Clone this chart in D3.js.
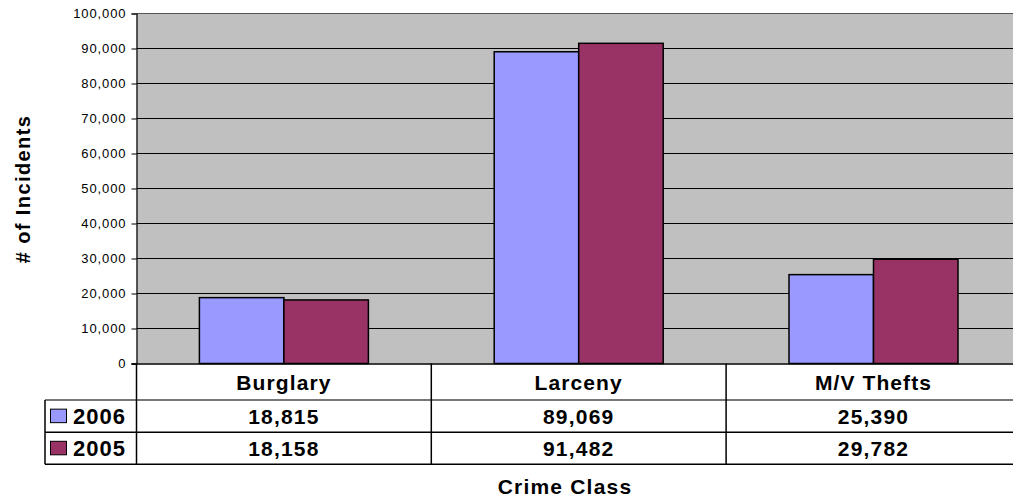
<!DOCTYPE html>
<html>
<head>
<meta charset="utf-8">
<script src="https://cdn.jsdelivr.net/npm/d3@7"></script>
<style>
  body { margin: 0; background: #fff; }
  text { font-family: "Liberation Sans", Arial, sans-serif; }
</style>
</head>
<body>
<svg id="chart" width="1013" height="500"></svg>
<script>
// data
var categories = ["Burglary", "Larceny", "M/V Thefts"];
var years = ["2006", "2005"];
var values2006 = [18815, 89069, 25390];
var values2005 = [18158, 91482, 29782];
var yTicks = [0, 10000, 20000, 30000, 40000, 50000, 60000, 70000, 80000, 90000, 100000];

var colors = { "2006": "#9999ff", "2005": "#993366" };
var seriesValues = { "2006": values2006, "2005": values2005 };

var svg = d3.select("#chart");

var plotLeft = 136.5, plotTop = 13.5, plotBottom = 363.5;
var catWidth = 294.8;
var plotRight = plotLeft + catWidth * categories.length;

var x = d3.scaleBand()
    .domain(categories)
    .range([plotLeft, plotRight]);

var y = d3.scaleLinear()
    .domain([0, 100000])
    .range([plotBottom, plotTop]);

var fmt = d3.format(",");

// plot background
svg.append("rect")
    .attr("x", plotLeft)
    .attr("y", plotTop)
    .attr("width", plotRight - plotLeft)
    .attr("height", plotBottom - plotTop)
    .attr("fill", "#c0c0c0");

// gridlines
svg.append("g")
    .selectAll("line")
    .data(yTicks.slice(1))
    .enter().append("line")
    .attr("x1", plotLeft)
    .attr("x2", plotRight)
    .attr("y1", function(d) { return y(d); })
    .attr("y2", function(d) { return y(d); })
    .attr("stroke", function(d, i) { return i == yTicks.length - 2 ? "#555" : "#000"; })
    .attr("stroke-width", 1);

// y axis
var yAxis = d3.axisLeft(y)
    .tickValues(yTicks)
    .tickSize(5)
    .tickFormat(fmt);

var yAxisG = svg.append("g")
    .attr("transform", "translate(" + plotLeft + ",0)")
    .call(yAxis);
yAxisG.select(".domain").attr("stroke", "#000").attr("stroke-width", 1.2);
yAxisG.selectAll(".tick line").attr("stroke", "#000");
yAxisG.selectAll(".tick text")
    .attr("x", -10)
    .attr("font-size", "13px")
    .attr("letter-spacing", "0.9px")
    .attr("font-family", "Liberation Sans, Arial, sans-serif")
    .attr("fill", "#000");

// bars
var barW = 84.5;
var bars = svg.append("g");
years.forEach(function(yr, j) {
    bars.selectAll(".bar-" + yr)
        .data(seriesValues[yr])
        .enter().append("rect")
        .attr("class", "bar-" + yr)
        .attr("x", function(d, i) {
            return x(categories[i]) + x.bandwidth() / 2 - barW + j * barW;
        })
        .attr("y", function(d) { return y(d); })
        .attr("width", barW)
        .attr("height", function(d) { return plotBottom - y(d); })
        .attr("fill", colors[yr])
        .attr("stroke", "#000")
        .attr("stroke-width", 1.5);
});

// data table
var tableLeft = 45;
var rowTops = [364, 400, 432.3, 464.3];

var table = svg.append("g");

// horizontal lines
table.selectAll(".hline")
    .data(rowTops.slice(1))
    .enter().append("line")
    .attr("x1", tableLeft)
    .attr("x2", plotRight)
    .attr("y1", function(d) { return d; })
    .attr("y2", function(d) { return d; })
    .attr("stroke", function(d, i) { return i == 0 ? "#777" : "#000"; })
    .attr("stroke-width", function(d, i) { return i == 0 ? 2 : 1.5; });

// vertical lines
table.append("line")
    .attr("x1", tableLeft).attr("x2", tableLeft)
    .attr("y1", rowTops[1]).attr("y2", rowTops[3])
    .attr("stroke", "#000").attr("stroke-width", 1.5);

table.append("line")
    .attr("x1", plotLeft).attr("x2", plotLeft)
    .attr("y1", plotBottom).attr("y2", rowTops[3])
    .attr("stroke", "#000").attr("stroke-width", 1.5);

table.selectAll(".vline")
    .data(categories.slice(1))
    .enter().append("line")
    .attr("x1", function(d) { return x(d); })
    .attr("x2", function(d) { return x(d); })
    .attr("y1", plotBottom)
    .attr("y2", rowTops[3])
    .attr("stroke", "#000")
    .attr("stroke-width", 1.5);

// axis baseline
table.append("line")
    .attr("x1", plotLeft - 5).attr("x2", plotRight)
    .attr("y1", plotBottom + 0.5).attr("y2", plotBottom + 0.5)
    .attr("stroke", "#000").attr("stroke-width", 1.5);

// category labels
table.selectAll(".cat")
    .data(categories)
    .enter().append("text")
    .attr("x", function(d) { return x(d) + x.bandwidth() / 2; })
    .attr("y", 390)
    .attr("text-anchor", "middle")
    .attr("font-size", "21px")
    .attr("letter-spacing", "1.1px")
    .attr("font-weight", "bold")
    .text(function(d) { return d; });

// series rows
years.forEach(function(yr, j) {
    var rowMid = (rowTops[j + 1] + rowTops[j + 2]) / 2;

    table.append("rect")
        .attr("x", 50.5)
        .attr("y", rowMid - 7)
        .attr("width", 16)
        .attr("height", 13.5)
        .attr("fill", colors[yr])
        .attr("stroke", "#000")
        .attr("stroke-width", 1);

    table.append("text")
        .attr("x", 73)
        .attr("y", rowMid + 8)
        .attr("font-size", "22px")
        .attr("letter-spacing", "1px")
        .attr("font-weight", "bold")
        .text(yr);

    table.selectAll(".val-" + yr)
        .data(seriesValues[yr])
        .enter().append("text")
        .attr("x", function(d, i) { return x(categories[i]) + x.bandwidth() / 2; })
        .attr("y", rowMid + 7.5)
        .attr("text-anchor", "middle")
        .attr("font-size", "21px")
        .attr("letter-spacing", "1.2px")
        .attr("font-weight", "bold")
        .text(function(d) { return fmt(d); });
});

// axis titles
svg.append("text")
    .attr("transform", "translate(30,189) rotate(-90)")
    .attr("text-anchor", "middle")
    .attr("font-size", "20px")
    .attr("letter-spacing", "1.4px")
    .attr("font-weight", "bold")
    .text("# of Incidents");

svg.append("text")
    .attr("x", 565)
    .attr("y", 494)
    .attr("text-anchor", "middle")
    .attr("font-size", "21px")
    .attr("letter-spacing", "1.2px")
    .attr("font-weight", "bold")
    .text("Crime Class");
</script>
</body>
</html>
